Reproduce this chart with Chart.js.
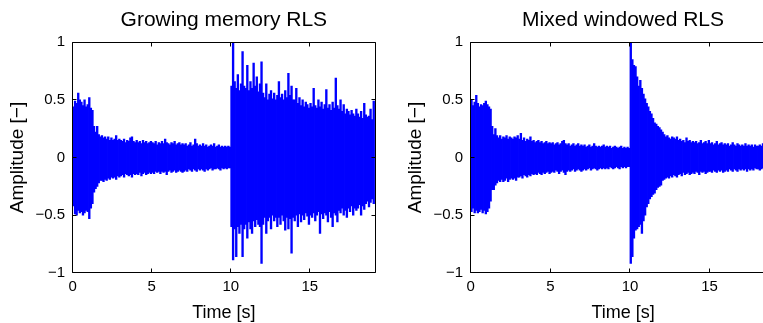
<!DOCTYPE html>
<html>
<head>
<meta charset="utf-8">
<script src="https://cdn.jsdelivr.net/npm/chart.js@4"></script>
<style>
  html, body { margin: 0; padding: 0; background: #fff; overflow: hidden; width: 763px; height: 323px; }
  canvas { position: absolute; top: 0; }
</style>
</head>
<body>
<canvas id="growing" width="400" height="323" style="left:0px"></canvas>
<canvas id="mixed" width="400" height="323" style="left:398px"></canvas>
<script>
// each bar is one 0.1 s bin of the signal: [min, max]
const binWidth = 0.1;
const xTicks = [0, 5, 10, 15];
const yTicks = [-1, -0.5, 0, 0.5, 1];

const growingHi = [
  0.44, 0.49, 0.47, 0.56, 0.50, 0.48, 0.45, 0.50, 0.44, 0.46,
  0.52, 0.43, 0.41, 0.27, 0.22, 0.27, 0.20, 0.18, 0.19, 0.17,
  0.18, 0.16, 0.18, 0.15, 0.17, 0.15, 0.16, 0.19, 0.15, 0.16,
  0.15, 0.14, 0.16, 0.13, 0.15, 0.14, 0.17, 0.18, 0.14, 0.13,
  0.15, 0.13, 0.14, 0.12, 0.15, 0.13, 0.14, 0.12, 0.13, 0.14,
  0.13, 0.12, 0.14, 0.11, 0.13, 0.12, 0.14, 0.12, 0.16, 0.13,
  0.12, 0.11, 0.13, 0.12, 0.14, 0.11, 0.12, 0.13, 0.11, 0.12,
  0.11, 0.12, 0.10, 0.11, 0.13, 0.10, 0.11, 0.16, 0.12, 0.10,
  0.11, 0.10, 0.12, 0.10, 0.11, 0.09, 0.10, 0.11, 0.10, 0.12,
  0.09, 0.10, 0.11, 0.09, 0.10, 0.09, 0.10, 0.09, 0.10, 0.09,
  0.62, 1.00, 0.66, 0.60, 0.72, 0.58, 0.64, 0.92, 0.62, 0.60,
  0.80, 0.58, 0.66, 0.60, 0.82, 0.62, 0.70, 0.57, 0.64, 0.83,
  0.56, 0.52, 0.64, 0.50, 0.55, 0.58, 0.51, 0.56, 0.50, 0.54,
  0.66, 0.52, 0.55, 0.50, 0.58, 0.52, 0.73, 0.54, 0.62, 0.50,
  0.50, 0.60, 0.47, 0.52, 0.45, 0.50, 0.44, 0.48, 0.46, 0.43,
  0.47, 0.44, 0.60, 0.45, 0.43, 0.50, 0.44, 0.48, 0.42, 0.46,
  0.59, 0.43, 0.46, 0.41, 0.48, 0.43, 0.69, 0.45, 0.42, 0.50,
  0.40, 0.46, 0.38, 0.42, 0.40, 0.37, 0.41, 0.38, 0.36, 0.42,
  0.38, 0.35, 0.40, 0.34, 0.47, 0.37, 0.35, 0.36, 0.42, 0.33,
  0.49
];
const growingLo = [
  -0.42, -0.49, -0.50, -0.46, -0.48, -0.47, -0.50, -0.48, -0.46, -0.47,
  -0.53, -0.44, -0.40, -0.30, -0.27, -0.25, -0.22, -0.20, -0.20, -0.21,
  -0.19, -0.20, -0.18, -0.19, -0.17, -0.18, -0.17, -0.19, -0.16, -0.17,
  -0.16, -0.15, -0.17, -0.14, -0.15, -0.16, -0.15, -0.17, -0.14, -0.15,
  -0.14, -0.15, -0.13, -0.16, -0.14, -0.13, -0.15, -0.14, -0.13, -0.14,
  -0.13, -0.14, -0.12, -0.13, -0.12, -0.14, -0.12, -0.13, -0.12, -0.15,
  -0.12, -0.11, -0.13, -0.12, -0.11, -0.13, -0.12, -0.11, -0.12, -0.13,
  -0.12, -0.11, -0.12, -0.10, -0.11, -0.12, -0.10, -0.11, -0.12, -0.10,
  -0.11, -0.10, -0.11, -0.12, -0.10, -0.11, -0.10, -0.09, -0.11, -0.10,
  -0.10, -0.09, -0.10, -0.11, -0.09, -0.10, -0.09, -0.10, -0.09, -0.09,
  -0.60, -0.89, -0.62, -0.86, -0.60, -0.66, -0.58, -0.86, -0.62, -0.58,
  -0.70, -0.56, -0.62, -0.66, -0.55, -0.60, -0.54, -0.58, -0.60, -0.92,
  -0.58, -0.52, -0.66, -0.55, -0.52, -0.62, -0.50, -0.55, -0.52, -0.60,
  -0.52, -0.58, -0.50, -0.55, -0.63, -0.52, -0.62, -0.53, -0.83, -0.52,
  -0.55, -0.50, -0.60, -0.49, -0.56, -0.50, -0.54, -0.48, -0.51, -0.58,
  -0.50, -0.52, -0.48, -0.55, -0.50, -0.47, -0.66, -0.49, -0.53, -0.48,
  -0.50, -0.56, -0.47, -0.52, -0.60, -0.48, -0.50, -0.56, -0.46, -0.48,
  -0.44, -0.50, -0.46, -0.52, -0.44, -0.47, -0.42, -0.50, -0.44, -0.46,
  -0.44, -0.41, -0.50, -0.42, -0.45, -0.40, -0.38, -0.43, -0.39, -0.36,
  -0.40
];

const mixedHi = [
  0.50, 0.45, 0.48, 0.54, 0.47, 0.44, 0.46, 0.45, 0.47, 0.49,
  0.46, 0.44, 0.42, 0.27, 0.20, 0.25, 0.19, 0.17, 0.19, 0.16,
  0.18, 0.17, 0.19, 0.16, 0.18, 0.17, 0.16, 0.18, 0.17, 0.19,
  0.16, 0.21, 0.15, 0.17, 0.14, 0.16, 0.15, 0.18, 0.14, 0.15,
  0.13, 0.14, 0.15, 0.13, 0.14, 0.12, 0.13, 0.14, 0.12, 0.13,
  0.12, 0.13, 0.11, 0.12, 0.13, 0.11, 0.12, 0.14, 0.15, 0.12,
  0.11, 0.12, 0.10, 0.11, 0.12, 0.10, 0.11, 0.12, 0.10, 0.11,
  0.10, 0.11, 0.09, 0.10, 0.11, 0.09, 0.10, 0.12, 0.10, 0.09,
  0.10, 0.09, 0.10, 0.11, 0.09, 0.10, 0.09, 0.10, 0.08, 0.09,
  0.10, 0.09, 0.08, 0.09, 0.10, 0.08, 0.09, 0.08, 0.09, 0.08,
  1.00, 0.85, 0.80, 0.79, 0.70, 0.62, 0.67, 0.60, 0.55, 0.51,
  0.47, 0.44, 0.40, 0.38, 0.34, 0.30, 0.29, 0.27, 0.26, 0.24,
  0.22, 0.20, 0.18, 0.19, 0.17, 0.16, 0.18, 0.17, 0.16, 0.18,
  0.15, 0.16, 0.14, 0.15, 0.13, 0.17, 0.14, 0.15, 0.13, 0.14,
  0.13, 0.14, 0.12, 0.13, 0.15, 0.12, 0.13, 0.14, 0.12, 0.15,
  0.12, 0.13, 0.11, 0.12, 0.14, 0.11, 0.12, 0.13, 0.11, 0.12,
  0.11, 0.12, 0.10, 0.11, 0.13, 0.11, 0.10, 0.12, 0.11, 0.10,
  0.11, 0.10, 0.12, 0.10, 0.11, 0.10, 0.11, 0.09, 0.11, 0.10,
  0.10, 0.11, 0.10, 0.12, 0.10, 0.11, 0.10, 0.09, 0.11, 0.10,
  0.10
];
const mixedLo = [
  -0.47, -0.44, -0.48, -0.46, -0.48, -0.47, -0.45, -0.48, -0.46, -0.49,
  -0.47, -0.44, -0.38, -0.28, -0.28, -0.24, -0.22, -0.20, -0.21, -0.19,
  -0.21, -0.20, -0.18, -0.21, -0.19, -0.18, -0.19, -0.18, -0.20, -0.17,
  -0.17, -0.16, -0.18, -0.15, -0.16, -0.17, -0.15, -0.16, -0.14, -0.15,
  -0.14, -0.15, -0.13, -0.14, -0.15, -0.13, -0.14, -0.13, -0.12, -0.14,
  -0.13, -0.12, -0.13, -0.11, -0.12, -0.14, -0.12, -0.11, -0.13, -0.15,
  -0.12, -0.11, -0.12, -0.11, -0.10, -0.12, -0.11, -0.10, -0.11, -0.12,
  -0.11, -0.10, -0.11, -0.10, -0.09, -0.11, -0.10, -0.09, -0.10, -0.11,
  -0.10, -0.09, -0.10, -0.09, -0.10, -0.09, -0.10, -0.08, -0.09, -0.10,
  -0.09, -0.08, -0.09, -0.10, -0.08, -0.09, -0.08, -0.09, -0.08, -0.08,
  -0.92, -0.86, -0.70, -0.63, -0.62, -0.60, -0.58, -0.66, -0.55, -0.50,
  -0.43, -0.40, -0.36, -0.34, -0.32, -0.31, -0.28, -0.26, -0.25, -0.24,
  -0.20, -0.19, -0.18, -0.17, -0.18, -0.16, -0.17, -0.15, -0.16, -0.17,
  -0.15, -0.14, -0.16, -0.13, -0.15, -0.14, -0.13, -0.15, -0.14, -0.13,
  -0.14, -0.12, -0.13, -0.15, -0.12, -0.13, -0.12, -0.14, -0.13, -0.12,
  -0.12, -0.13, -0.11, -0.12, -0.13, -0.11, -0.12, -0.11, -0.13, -0.12,
  -0.11, -0.12, -0.10, -0.11, -0.12, -0.10, -0.11, -0.12, -0.10, -0.11,
  -0.10, -0.11, -0.10, -0.12, -0.10, -0.11, -0.10, -0.11, -0.09, -0.10,
  -0.10, -0.11, -0.10, -0.09, -0.10, -0.11, -0.10, -0.09, -0.10, -0.11,
  -0.10
];

const fontFamily = '"Liberation Sans", Arial, Helvetica, sans-serif';

function fmtTick(v) {
    if (v === 0) return '0';
    return (v < 0 ? '\u2212' : '') + Math.abs(v);
}

// matlab style box with inward ticks, drawn over the signal
const axesBox = {
    id: 'axesBox',
    afterDatasetsDraw(chart) {
        const { ctx, chartArea: a, scales: { x, y } } = chart;
        const L = Math.floor(a.left) + 0.5, R = Math.floor(a.right) + 0.5;
        const T = Math.floor(a.top) + 0.5, B = Math.floor(a.bottom) + 0.5;
        const len = 4;
        ctx.save();
        ctx.strokeStyle = '#000';
        ctx.lineWidth = 1;
        ctx.beginPath();
        ctx.rect(L, T, R - L, B - T);
        xTicks.forEach(v => {
            const px = Math.floor(x.getPixelForValue(v)) + 0.5;
            ctx.moveTo(px, B); ctx.lineTo(px, B - len);
            ctx.moveTo(px, T); ctx.lineTo(px, T + len);
        });
        yTicks.forEach(v => {
            const py = Math.floor(y.getPixelForValue(v)) + 0.5;
            ctx.moveTo(L, py); ctx.lineTo(L + len, py);
            ctx.moveTo(R, py); ctx.lineTo(R - len, py);
        });
        ctx.stroke();
        ctx.restore();
    }
};

function makeChart(id, title, hi, lo, padRight) {
    const ctx = document.getElementById(id).getContext('2d');
    return new Chart(ctx, {
        type: 'bar',
        data: {
            datasets: [{
                data: hi.map((h, i) => ({ x: (i + 0.5) * binWidth, y: [lo[i], h] })),
                backgroundColor: '#0000ff',
                borderWidth: 0,
                barThickness: 1.7
            }]
        },
        options: {
            responsive: false,
            animation: false,
            devicePixelRatio: 1,
            layout: { padding: { left: 0, top: 0, right: padRight, bottom: 0 } },
            plugins: {
                legend: { display: false },
                tooltip: { enabled: false },
                title: {
                    display: true,
                    text: title,
                    fullSize: false,
                    color: '#000',
                    font: { family: fontFamily, size: 21, weight: 'normal', lineHeight: 1.2 },
                    padding: { top: 7.4, bottom: 9.7 }
                }
            },
            scales: {
                x: {
                    type: 'linear',
                    min: 0,
                    max: 19.13,
                    offset: false,
                    grid: { display: false, drawTicks: false },
                    border: { display: false },
                    afterBuildTicks: s => { s.ticks = xTicks.map(v => ({ value: v })); },
                    afterFit: s => { s.height = 50.3; },
                    ticks: {
                        padding: 5.5,
                        autoSkip: false,
                        maxRotation: 0,
                        color: '#000',
                        font: { family: fontFamily, size: 15 }
                    },
                    title: {
                        display: true,
                        text: 'Time [s]',
                        color: '#000',
                        font: { family: fontFamily, size: 18, lineHeight: 1 },
                        padding: { top: 0, bottom: 0.7 }
                    }
                },
                y: {
                    min: -1,
                    max: 1,
                    grid: { display: false, drawTicks: false },
                    border: { display: false },
                    afterBuildTicks: s => { s.ticks = yTicks.map(v => ({ value: v })); },
                    afterFit: s => { s.width = 72.7; },
                    ticks: {
                        padding: 7.7,
                        color: '#000',
                        font: { family: fontFamily, size: 15 },
                        callback: v => fmtTick(v)
                    },
                    title: {
                        display: true,
                        text: 'Amplitude [\u2212]',
                        color: '#000',
                        font: { family: fontFamily, size: 19, lineHeight: 1 },
                        padding: { top: 8.5, bottom: 0 }
                    }
                }
            }
        },
        plugins: [axesBox]
    });
}

makeChart('growing', 'Growing memory RLS', growingHi, growingLo, 25);
makeChart('mixed', 'Mixed windowed RLS', mixedHi, mixedLo, 22.6);
</script>
</body>
</html>
